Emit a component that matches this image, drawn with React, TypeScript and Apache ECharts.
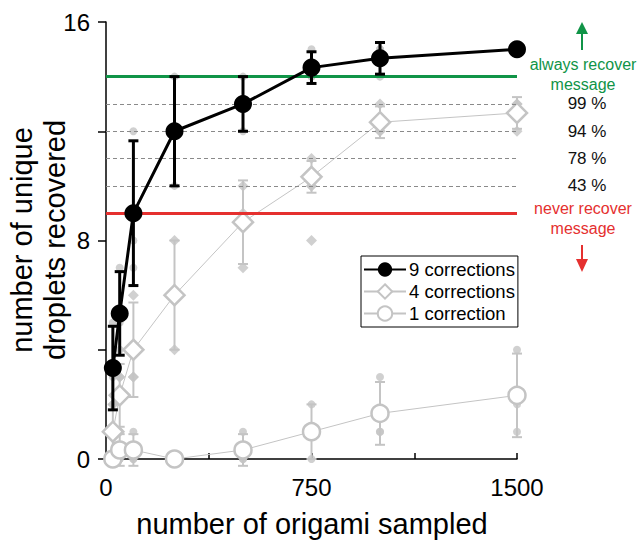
import React, { useEffect, useRef } from "react";
import * as echarts from "echarts";

// ---- data ----
const samples = [25, 50, 100, 250, 500, 750, 1000, 1500];

const mean9 = [3.33, 5.33, 9, 12, 13, 14.33, 14.67, 15];
const sd9 = [1.53, 1.53, 2.65, 2, 1, 0.58, 0.58, 0];
const reps9 = [[5, 3, 2], [7, 5, 4], [12, 8, 7], [14, 12, 10], [14, 13, 12], [15, 14, 14], [15, 15, 14], [15, 15, 15]];

const mean4 = [1, 2.33, 4, 6, 8.67, 10.33, 12.33, 12.67];
const sd4 = [1, 1.15, 1.73, 2, 1.53, 0.58, 0.58, 0.58];
const reps4 = [[2, 1, 0], [3, 3, 1], [6, 3, 3], [8, 6, 4], [10, 9, 7], [11, 10, 10, 8], [13, 12, 12], [13, 13, 12]];

const mean1 = [0, 0.33, 0.33, 0, 0.33, 1, 1.67, 2.33];
const sd1 = [0, 0.58, 0.58, 0, 0.58, 1, 1.15, 1.53];
const reps1 = [[0, 0, 0], [1, 0, 0], [1, 0, 0], [0, 0, 0], [1, 0, 0], [2, 1, 0], [3, 1, 1], [4, 2, 1]];

const seriesNames = ["9 corrections", "4 corrections", "1 correction"];

const alwaysLevel = 14;
const neverLevel = 9;
const thresholdLevels = [13, 12, 11, 10];
const thresholdLabels = ["99 %", "94 %", "78 %", "43 %"];

const xTickLabels = [0, 750, 1500];
const yTickLabels = [0, 8, 16];

// ---- styles ----
const FONT = "'Liberation Sans', Arial, sans-serif";
const GREEN = "#109447";
const RED = "#e5302f";
const GRAY = "#c4c4c4";

export default function App() {
  const ref = useRef<HTMLDivElement>(null);

  useEffect(() => {
    if (!ref.current) return;
    const chart = echarts.init(ref.current, undefined, { renderer: "svg" });

    const pts = (means: number[]) => samples.map((x, i) => [x, means[i]]);
    const errData = (means: number[], sds: number[]) =>
      samples.map((x, i) => [x, means[i] - sds[i], means[i] + sds[i]]).filter((d, i) => sds[i] > 0);
    const repData = (reps: number[][]) => {
      const out: number[][] = [];
      reps.forEach((r, i) => r.forEach((v) => out.push([samples[i], v])));
      return out;
    };

    const errSeries = (data: number[][], color: string, lw: number, z: number) => ({
      type: "custom",
      z,
      silent: true,
      clip: false,
      encode: { x: 0, y: [1, 2] },
      data,
      renderItem: (params: any, api: any) => {
        const x = api.value(0);
        const top = api.coord([x, api.value(2)]);
        const bot = api.coord([x, api.value(1)]);
        const hw = 5;
        const style = { stroke: color, lineWidth: lw };
        return {
          type: "group",
          children: [
            { type: "line", shape: { x1: top[0], y1: top[1], x2: bot[0], y2: bot[1] }, style },
            { type: "line", shape: { x1: top[0] - hw, y1: top[1], x2: top[0] + hw, y2: top[1] }, style },
            { type: "line", shape: { x1: bot[0] - hw, y1: bot[1], x2: bot[0] + hw, y2: bot[1] }, style },
          ],
        };
      },
    });

    const refLines: any[] = [
      { yAxis: alwaysLevel, lineStyle: { color: GREEN, width: 3, type: "solid" } },
      { yAxis: neverLevel, lineStyle: { color: RED, width: 3, type: "solid" } },
      ...thresholdLevels.map((v) => ({ yAxis: v, lineStyle: { color: "#8a8a8a", width: 1, type: [4, 3] } })),
    ];

    const graphics: any[] = [
      // y axis title
      {
        type: "text",
        x: 38,
        y: 240,
        rotation: Math.PI / 2,
        style: {
          text: "number of unique\ndroplets recovered",
          font: `29px ${FONT}`,
          fill: "#000",
          align: "center",
          verticalAlign: "middle",
          lineHeight: 33,
        },
      },
      // x axis title
      {
        type: "text",
        x: 312,
        y: 524,
        style: { text: "number of origami sampled", font: `29px ${FONT}`, fill: "#000", align: "center", verticalAlign: "middle" },
      },
      // always recover
      { type: "line", shape: { x1: 582, y1: 50, x2: 582, y2: 32 }, style: { stroke: GREEN, lineWidth: 2 } },
      { type: "polygon", shape: { points: [[576, 34], [588, 34], [582, 22]] }, style: { fill: GREEN } },
      {
        type: "text",
        x: 583,
        y: 74,
        style: { text: "always recover\nmessage", font: `16px ${FONT}`, fill: GREEN, align: "center", verticalAlign: "middle", lineHeight: 20 },
      },
      // never recover
      {
        type: "text",
        x: 583,
        y: 218,
        style: { text: "never recover\nmessage", font: `16px ${FONT}`, fill: RED, align: "center", verticalAlign: "middle", lineHeight: 20 },
      },
      { type: "line", shape: { x1: 582, y1: 245, x2: 582, y2: 261 }, style: { stroke: RED, lineWidth: 2 } },
      { type: "polygon", shape: { points: [[576, 259], [588, 259], [582, 272]] }, style: { fill: RED } },
    ];
    // threshold percentage labels
    thresholdLevels.forEach((v, i) => {
      graphics.push({
        type: "text",
        x: 587,
        y: 459 - (v / 16) * 437,
        style: { text: thresholdLabels[i], font: `17px ${FONT}`, fill: "#111", align: "center", verticalAlign: "middle" },
      });
    });

    const option: any = {
      animation: false,
      backgroundColor: "#fff",
      grid: { left: 106, right: 124, top: 22, bottom: 81, containLabel: false },
      xAxis: {
        type: "value",
        min: 0,
        max: 1500,
        interval: 375,
        axisLine: { lineStyle: { color: "#000", width: 1.5 } },
        axisTick: { inside: true, length: 6, lineStyle: { color: "#000", width: 1.5 } },
        splitLine: { show: false },
        axisLabel: {
          margin: 16,
          fontSize: 24,
          fontFamily: FONT,
          color: "#000",
          formatter: (v: number) => (xTickLabels.includes(v) ? String(v) : ""),
        },
      },
      yAxis: {
        type: "value",
        min: 0,
        max: 16,
        interval: 4,
        axisLine: { show: true, lineStyle: { color: "#000", width: 1.5 } },
        axisTick: { show: true, inside: false, length: 8, lineStyle: { color: "#000", width: 1.5 } },
        splitLine: { show: false },
        axisLabel: {
          margin: 16,
          fontSize: 24,
          fontFamily: FONT,
          color: "#000",
          formatter: (v: number) => (yTickLabels.includes(v) ? String(v) : ""),
        },
      },
      legend: {
        data: seriesNames,
        orient: "vertical",
        left: 361,
        top: 256,
        itemWidth: 42,
        itemHeight: 18,
        itemGap: 3,
        padding: [4, 3, 4, 2],
        borderColor: "#000",
        borderWidth: 1,
        backgroundColor: "#fff",
        textStyle: { fontSize: 18.5, fontFamily: FONT, color: "#000", padding: [0, 0, 0, -2] },
        selectedMode: false,
      },
      graphic: graphics,
      series: [
        {
          type: "line",
          name: "refs",
          data: [],
          silent: true,
          z: 1,
          markLine: { silent: true, symbol: "none", label: { show: false }, data: refLines, animation: false },
        },
        {
          type: "scatter",
          name: "reps1",
          data: repData(reps1),
          symbol: "circle",
          symbolSize: 8,
          itemStyle: { color: GRAY },
          z: 2,
          silent: true,
        },
        {
          type: "scatter",
          name: "reps4",
          data: repData(reps4),
          symbol: "diamond",
          symbolSize: 11,
          itemStyle: { color: GRAY },
          z: 2,
          silent: true,
        },
        {
          type: "scatter",
          name: "reps9",
          data: repData(reps9),
          symbol: "circle",
          symbolSize: 8,
          itemStyle: { color: GRAY },
          z: 2,
          silent: true,
        },
        errSeries(errData(mean1, sd1), GRAY, 2, 3),
        errSeries(errData(mean4, sd4), GRAY, 2, 3),
        {
          type: "line",
          name: seriesNames[2],
          data: pts(mean1),
          symbol: "circle",
          symbolSize: 17,
          showAllSymbol: true,
          lineStyle: { color: GRAY, width: 1 },
          itemStyle: { color: "#fff", borderColor: GRAY, borderWidth: 2.5 },
          z: 4,
        },
        {
          type: "line",
          name: seriesNames[1],
          data: pts(mean4),
          symbol: "diamond",
          symbolSize: 20,
          showAllSymbol: true,
          lineStyle: { color: GRAY, width: 1 },
          itemStyle: { color: "#fff", borderColor: GRAY, borderWidth: 2.5 },
          z: 4,
        },
        errSeries(errData(mean9, sd9), "#000", 3, 5),
        {
          type: "line",
          name: seriesNames[0],
          data: pts(mean9),
          symbol: "circle",
          symbolSize: 18,
          showAllSymbol: true,
          lineStyle: { color: "#000", width: 3 },
          itemStyle: { color: "#000" },
          z: 6,
        },
      ],
    };

    chart.setOption(option);
    return () => chart.dispose();
  }, []);

  return <div ref={ref} style={{ position: "absolute", left: 0, top: 0, width: 641, height: 540 }} />;
}
